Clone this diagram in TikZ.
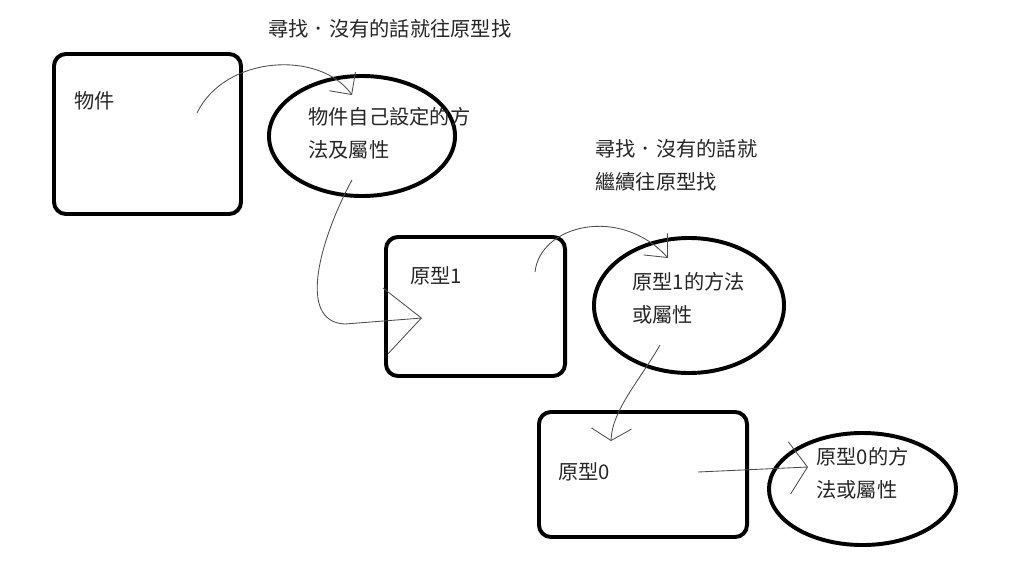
\documentclass[tikz,border=0pt]{standalone}
\usepackage{fontspec}
\newfontfamily\twfont{Noto Sans CJK TC}
\usetikzlibrary{shapes.geometric,arrows.meta}

\tikzset{
  box/.style  = {draw, line width=2.8pt, rounded corners=0.3cm, rectangle, inner sep=0pt},
  oval/.style = {draw, line width=2.8pt, ellipse, inner sep=0pt},
  txt/.style  = {font=\twfont\fontsize{14.4}{23.4}\selectfont, text=black!85, inner sep=0pt, align=left, anchor=west},
  link/.style = {draw=black!70, line width=0.6pt},
}

\begin{document}
\begin{tikzpicture}[x=0.025cm, y=-0.025cm]
    \useasboundingbox (0,0) rectangle (1024,567);

    % boxes and ovals
    \node[box, minimum width=4.675cm, minimum height=4cm]     (obj) at (147.5,134) {};
    \node[oval, minimum width=4.65cm, minimum height=3cm]     (own) at (362,136) {};
    \node[box, minimum width=4.475cm, minimum height=3.475cm] (proto1) at (475.5,306.5) {};
    \node[oval, minimum width=4.75cm, minimum height=3.375cm] (meth1) at (689,305.5) {};
    \node[box, minimum width=5.2cm, minimum height=3.125cm]   (proto0) at (643,474.5) {};
    \node[oval, minimum width=4.675cm, minimum height=2.8cm]  (meth0) at (862.5,489) {};

    % texts
    \node[txt] (objtxt) at (74,101) {物件};
    \node[txt] (owntxt) at (308,133.5) {物件自己設定的方\\法及屬性};
    \node[txt] (proto1txt) at (410,276) {原型1};
    \node[txt] (meth1txt) at (632,298) {原型1的方法\\或屬性};
    \node[txt] (proto0txt) at (558,472) {原型0};
    \node[txt] (meth0txt) at (816,473.5) {原型0的方\\法或屬性};
    \node[txt] (note1) at (268,29) {尋找．沒有的話就往原型找};
    \node[txt] (note2) at (595,165.5) {尋找．沒有的話就\\繼續往原型找};

    % arrow ends
    \coordinate (a1s) at (197,113);
    \coordinate (a1e) at (352,95);
    \coordinate (a2s) at (352,180);
    \coordinate (a2m) at (345,324);
    \coordinate (a2e) at (422,318);
    \coordinate (a3s) at (535,272);
    \coordinate (a3e) at (668,258);
    \coordinate (a4s) at (660,345);
    \coordinate (a4e) at (611,441);
    \coordinate (a5s) at (698,472);
    \coordinate (a5e) at (808,467);

    \draw[link, -{Straight Barb[length=0.4cm,width=0.8cm]}]
        (a1s) .. controls (225,55) and (320,50) .. (a1e);
    \draw[link, -{Straight Barb[length=0.9cm,width=1.65cm]}]
        (a2s) .. controls (322,235) and (295,322) .. (a2m) -- (a2e);
    \draw[link, -{Straight Barb[length=0.45cm,width=0.8cm]}]
        (a3s) .. controls (540,225) and (620,205) .. (a3e);
    \draw[link, -{Straight Barb[length=0.3cm,width=1cm]}]
        (a4s) .. controls (640,380) and (612,410) .. (a4e);
    \draw[link, -{Straight Barb[length=0.45cm,width=1.3cm]}]
        (a5s) -- (a5e);
\end{tikzpicture}
\end{document}
